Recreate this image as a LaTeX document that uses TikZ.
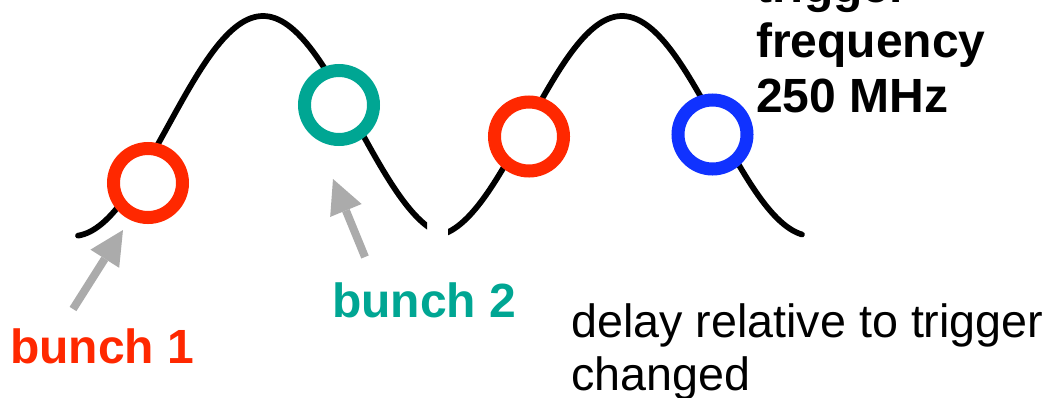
\documentclass[tikz,border=0pt]{standalone}
\usepackage{fontspec}
\setmainfont{Liberation Sans}
\usetikzlibrary{arrows.meta}
\definecolor{bred}{RGB}{255,40,0}
\definecolor{bteal}{RGB}{0,166,147}
\definecolor{bblue}{RGB}{16,50,255}
\definecolor{agray}{RGB}{171,171,171}
\tikzset{
  wave/.style={line width=4.3pt, line cap=round, black},
  bunchring/.style={circle, minimum size=51.75pt, inner sep=0pt, line width=9.75pt, fill=white},
  pointer/.style={agray, line width=6pt, -{Triangle[length=25.5pt,width=25.5pt,line width=0pt]}},
  boldlab/.style={inner sep=0pt, anchor=base west, font=\fontsize{36}{40}\selectfont\bfseries},
  plainlab/.style={inner sep=0pt, anchor=base west, font=\fontsize{35}{40}\selectfont}
}
\begin{document}
\begin{tikzpicture}[x=0.75pt, y=-0.75pt]
\useasboundingbox (0,0) rectangle (1061,397);
% waves
\begin{scope}
  \clip (0,0) rectangle (427,397);
  \draw[wave] plot[domain=78:445, samples=120] (\x, {236 - 110*(1+cos((\x-263)/190*180))});
\end{scope}
\begin{scope}
  \clip (448,0) rectangle (1061,397);
  \draw[wave] plot[domain=430:802, samples=120] (\x, {236 - 110*(1+cos((\x-622)/190*180))});
\end{scope}
% bunches
\node[bunchring, draw=bred]   (b1)  at (148,183) {};
\node[bunchring, draw=bteal]  (b2)  at (339,105) {};
\node[bunchring, draw=bred]   (b3)  at (529,136.5) {};
\node[bunchring, draw=bblue]  (b4)  at (712.5,134.5) {};
% labels
\node[boldlab, text=bred]  (l1) at (10,363) {bunch 1};
\node[boldlab, text=bteal] (l2) at (332,317) {bunch 2};
\node[boldlab] (t1) at (756,2) {trigger};
\node[boldlab] (t2) at (756,57) {frequency};
\node[boldlab] (t3) at (756,112) {250 MHz};
\node[plainlab] (d1) at (571,337) {delay relative to trigger};
\node[plainlab] (d2) at (571,390) {changed};
% arrows
\coordinate (a1s) at (73,309);
\coordinate (a1e) at (123,230);
\coordinate (a2s) at (365,257);
\coordinate (a2e) at (333,179);
\draw[pointer] (a1s) -- (a1e);
\draw[pointer] (a2s) -- (a2e);
\end{tikzpicture}
\end{document}
